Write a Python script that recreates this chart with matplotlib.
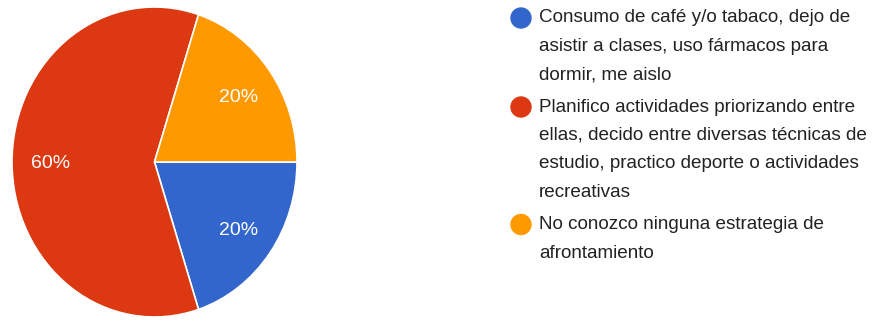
import matplotlib
matplotlib.use("Agg")
import matplotlib.pyplot as plt

# respuestas de la encuesta (porcentaje)
labels = [
    "Consumo de café y/o tabaco, dejo de\nasistir a clases, uso fármacos para\ndormir, me aislo",
    "Planifico actividades priorizando entre\nellas, decido entre diversas técnicas de\nestudio, practico deporte o actividades\nrecreativas",
    "No conozco ninguna estrategia de\nafrontamiento",
]
values = [20, 60, 20]
colors = ["#3366CC", "#DC3912", "#FF9900"]

plt.rcParams["font.family"] = ["Liberation Sans", "DejaVu Sans"]

W, H = 880, 320
fig = plt.figure(figsize=(W / 100, H / 100), dpi=100)

# pie axes, in pixel box (slightly taller than wide)
ax = fig.add_axes([12 / W, 3 / H, 285 / W, 310 / H])
wedges, texts, autotexts = ax.pie(
    values,
    colors=colors,
    startangle=0,
    counterclock=False,
    autopct=lambda p: f"{p:.0f}%",
    pctdistance=0.73,
    radius=1.0,
    wedgeprops=dict(edgecolor="white", linewidth=1.2),
    textprops=dict(color="white", fontsize=14),
)
for t in autotexts:
    t.set_va("center_baseline")
ax.set_aspect("auto")
ax.set_xlim(-1, 1)
ax.set_ylim(-1, 1)
ax.axis("off")

# legend drawn line by line
x_dot = 521
x_text = 539
line_step = 28.5
item_gap = 32
y = 18
for label, color in zip(labels, colors):
    fig.patches.append(
        matplotlib.patches.Ellipse(
            (x_dot / W, 1 - y / H), 20 / W, 20 / H,
            transform=fig.transFigure, color=color, figure=fig,
        )
    )
    lines = label.split("\n")
    for i, line in enumerate(lines):
        fig.text(x_text / W, 1 - (y + i * line_step) / H, line,
                 fontsize=13.6, color="#222222", va="center", ha="left")
    y += (len(lines) - 1) * line_step + item_gap

fig.savefig("out.png", dpi=100)
